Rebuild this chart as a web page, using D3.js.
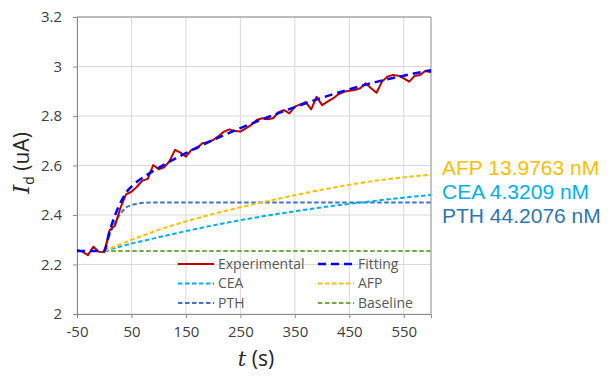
<!DOCTYPE html>
<html><head><meta charset="utf-8">
<script src="https://cdn.jsdelivr.net/npm/d3@7"></script>
<style>body{margin:0;background:#fff}svg{display:block}</style>
</head><body><svg id="c" width="611" height="376"></svg>
<script>
// ---- data ----
const expTimes = [-50,-40,-30,-20,-10,0,10,20,30,40,50,60,70,80,90,100,110,120,130,140,150,160,170,180,190,200,210,220,230,240,250,260,270,280,290,300,310,320,330,340,350,360,370,380,390,400,410,420,430,440,450,460,470,480,490,500,510,520,530,540,550,560,570,580,590,600];
const expValues = [2.259,2.252,2.238,2.272,2.252,2.250,2.339,2.358,2.430,2.483,2.494,2.514,2.539,2.546,2.602,2.585,2.593,2.618,2.663,2.652,2.636,2.663,2.669,2.690,2.694,2.703,2.719,2.737,2.746,2.739,2.737,2.750,2.764,2.784,2.791,2.787,2.791,2.815,2.824,2.811,2.838,2.847,2.856,2.827,2.878,2.844,2.858,2.871,2.888,2.898,2.902,2.905,2.912,2.932,2.912,2.894,2.939,2.959,2.966,2.963,2.952,2.939,2.962,2.966,2.983,2.977];

const modelTimes = [0,10,20,30,40,50,60,80,100,150,200,250,300,350,400,450,500,550,600];
const fitTimes = [-50,0,10,20,30,40,50,60,80,100,150,200,250,300,350,400,450,500,550,600];
const fitValues = [2.255,2.255,2.335,2.400,2.450,2.490,2.515,2.534,2.564,2.591,2.650,2.703,2.751,2.795,2.836,2.874,2.908,2.938,2.963,2.985];
const pthValues = [2.255,2.320,2.370,2.405,2.430,2.440,2.446,2.450,2.451,2.451,2.451,2.451,2.451,2.451,2.451,2.451,2.451,2.451,2.451];
const ceaValues = [2.255,2.261,2.267,2.273,2.279,2.285,2.290,2.300,2.310,2.335,2.358,2.379,2.398,2.415,2.431,2.445,2.458,2.470,2.481];
const afpValues = [2.255,2.264,2.273,2.282,2.291,2.300,2.308,2.324,2.340,2.374,2.404,2.431,2.456,2.480,2.502,2.522,2.539,2.552,2.563];
const baselineValues = [2.255,2.255,2.255,2.255,2.255,2.255,2.255,2.255,2.255,2.255,2.255,2.255,2.255,2.255,2.255,2.255,2.255,2.255,2.255];

const xTicks = [-50,50,150,250,350,450,550];
const xTickLabels = ["-50","50","150","250","350","450","550"];
const yTicks = [2,2.2,2.4,2.6,2.8,3,3.2];
const yTickLabels = ["2","2.2","2.4","2.6","2.8","3","3.2"];
const legendLabels = ["Experimental","Fitting","CEA","AFP","PTH","Baseline"];
const concLabels = ["AFP 13.9763 nM","CEA 4.3209 nM","PTH 44.2076 nM"];

// ---- styles ----
const C = {exp:"#C00000", fit:"#0000FF", cea:"#00B0F0", afp:"#FFC000", pth:"#4472C4", base:"#70AD47"};
const concColors = ["#FFC000","#00B0F0","#2E75B6"];
const FONT = "'Open Sans', 'Noto Sans', sans-serif";

const svg = d3.select("#c");
const L = 77, R = 431, T = 17, B = 314;
const x = d3.scaleLinear().domain([-50,600]).range([L,R]);
const y = d3.scaleLinear().domain([2,3.2]).range([B,T]);

// grid
const g = svg.append("g");
g.selectAll(".vg").data(xTicks).join("line")
  .attr("x1",d=>x(d)).attr("x2",d=>x(d)).attr("y1",T).attr("y2",B)
  .attr("stroke","#d9d9d9").attr("stroke-width",1);
g.selectAll(".hg").data(yTicks).join("line")
  .attr("x1",L).attr("x2",R).attr("y1",d=>y(d)).attr("y2",d=>y(d))
  .attr("stroke","#d9d9d9").attr("stroke-width",1);

// axes
const xAxis = d3.axisBottom(x).tickValues(xTicks).tickFormat((d,i)=>xTickLabels[i]).tickSize(4).tickPadding(8);
const yAxis = d3.axisLeft(y).tickValues(yTicks).tickFormat((d,i)=>yTickLabels[i]).tickSize(4).tickPadding(11);
const gx = svg.append("g").attr("transform",`translate(0,${B})`).call(xAxis);
const gy = svg.append("g").attr("transform",`translate(${L},0)`).call(yAxis);
[gx,gy].forEach(a=>{
  a.select(".domain").attr("stroke","#8c8c8c");
  a.selectAll(".tick line").attr("stroke","#8c8c8c");
  a.selectAll(".tick text").attr("fill","#404040").style("font-family",FONT).style("font-size","15px");
});
// frame top/right
svg.append("line").attr("x1",L).attr("x2",R).attr("y1",T).attr("y2",T).attr("stroke","#8c8c8c");
svg.append("line").attr("x1",R).attr("x2",R).attr("y1",T).attr("y2",B).attr("stroke","#8c8c8c");

// lines
function draw(ts, vs, color, w, dash, curve){
  const ln = d3.line().x(d=>x(d[0])).y(d=>y(d[1])).curve(curve||d3.curveLinear);
  svg.append("path").datum(ts.map((t,i)=>[t,vs[i]]))
    .attr("d",ln).attr("fill","none").attr("stroke",color).attr("stroke-width",w)
    .attr("stroke-dasharray",dash||null).attr("stroke-linejoin","round");
}
draw(modelTimes, baselineValues, C.base, 2, "4.5,2.5");
draw(modelTimes, pthValues, C.pth, 2, "4.5,2.5", d3.curveMonotoneX);
draw(modelTimes, ceaValues, C.cea, 2, "4.5,2.5", d3.curveMonotoneX);
draw(modelTimes, afpValues, C.afp, 2, "4.5,2.5", d3.curveMonotoneX);
draw(expTimes, expValues, C.exp, 2);
draw(fitTimes, fitValues, C.fit, 2.5, "8,5", d3.curveMonotoneX);

// legend
const legItems = [
  {label:legendLabels[0], color:C.exp, dash:null, w:2},
  {label:legendLabels[1], color:C.fit, dash:"8,5", w:2.5},
  {label:legendLabels[2], color:C.cea, dash:"4.5,2.5", w:2},
  {label:legendLabels[3], color:C.afp, dash:"4.5,2.5", w:2},
  {label:legendLabels[4], color:C.pth, dash:"4.5,2.5", w:2},
  {label:legendLabels[5], color:C.base, dash:"4.5,2.5", w:2}
];
const colX = [178, 318], rowY = [264, 283.5, 303];
legItems.forEach((it,i)=>{
  const cx = colX[i%2], cy = rowY[Math.floor(i/2)];
  svg.append("line").attr("x1",cx).attr("x2",cx+36).attr("y1",cy).attr("y2",cy)
    .attr("stroke",it.color).attr("stroke-width",it.w).attr("stroke-dasharray",it.dash);
  svg.append("text").attr("x",cx+40).attr("y",cy).attr("dy","0.35em")
    .attr("fill","#595959").style("font-family",FONT).style("font-size","14px").text(it.label);
});

// concentration labels
const concY = [175, 199, 223];
concLabels.forEach((s,i)=>{
  svg.append("text").attr("x",442).attr("y",concY[i]).attr("fill",concColors[i])
    .style("font-family","'Liberation Sans', Arial, sans-serif").style("font-size","21px").text(s);
});

// axis titles
const yt = svg.append("text").attr("transform","translate(29,163) rotate(-90)")
  .attr("text-anchor","middle").attr("fill","#262626").style("font-family",FONT).style("font-size","21px");
yt.append("tspan").style("font-family","'DejaVu Serif', serif").style("font-style","italic").style("font-size","23px").text("I");
yt.append("tspan").attr("dy",5).style("font-size","14px").text("d");
yt.append("tspan").attr("dy",-5).text(" (uA)");

const xt = svg.append("text").attr("x",256).attr("y",366)
  .attr("text-anchor","middle").attr("fill","#262626").style("font-family",FONT).style("font-size","21px");
xt.append("tspan").style("font-family","'DejaVu Serif', serif").style("font-style","italic").text("t");
xt.append("tspan").text(" (s)");
</script></body></html>
